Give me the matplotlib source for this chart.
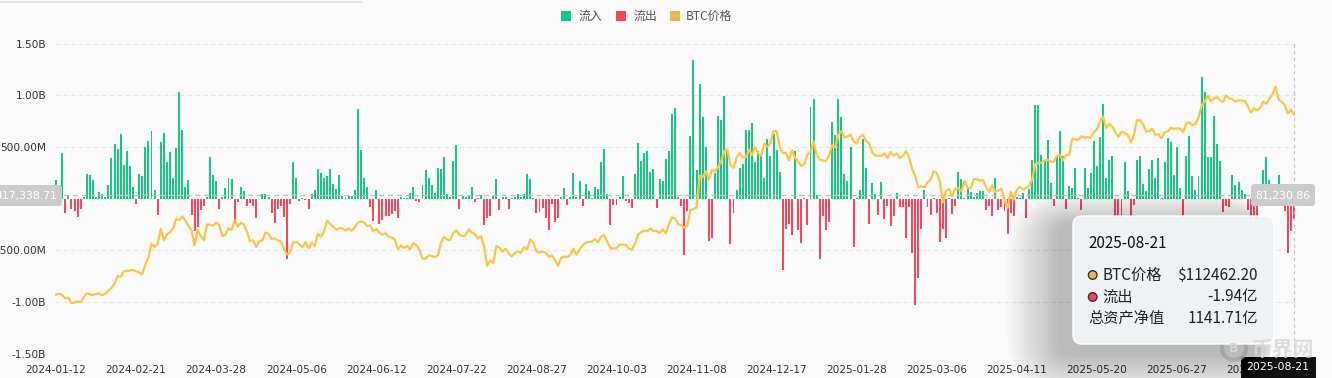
import numpy as np
import pandas as pd
import matplotlib
matplotlib.use('Agg')
import matplotlib.pyplot as plt
from matplotlib.patches import FancyBboxPatch, Rectangle, Circle

plt.rcParams['font.family'] = ['DejaVu Sans', 'Noto Sans CJK SC']

W, H = 1332, 378

# trading days (NYSE calendar)
holidays = ['2024-01-15', '2024-02-19', '2024-03-29', '2024-05-27', '2024-06-19',
            '2024-07-04', '2024-09-02', '2024-11-28', '2024-12-25', '2025-01-01',
            '2025-01-09', '2025-01-20', '2025-02-17', '2025-04-18', '2025-05-26',
            '2025-06-19', '2025-07-04']
dates = pd.bdate_range('2024-01-12', '2025-08-21', freq='C', holidays=holidays)

# daily net flow, $M
flow_2024_h1 = [
    180, 40, 436, -142, 26, -103, -120, -175, -103, 10, 239, 226, 178,                     # Jan
    19, 65, 48, 16, 126, 388, 523, 475, 620, 320, 459, 310, 116, -55, 233, 213, 500, 559,
    655, 78,                                                                               # Feb
    -158, 546, 630, 358, 452, 203, 488, 1027, 665, 113, 181, -158, -310, -278, -110, -71,
    15, 397, 223, 165,                                                                     # Mar
    -103, 19, 97, 194, 184, -216, -36, 107, 74, -71, -48, -71, -184, -5, 42, 45, 13, -142,
    -236, -103, -68, -181,                                                                 # Apr
    -581, -55, 358, 200, -29, 5, -10, -103, 48, 84, 287, 242, 203, 219, 287, 136, 94, 229,
    26, 13, 29, 29,                                                                        # May
    87, 869, 472, 197, 113, -84, -216, 84, -245, -207, -165, -171, -152, -120, -191, 10,
    5, 3, 58,                                                                              # Jun
]
flow_2024_h2 = [
    113, -29, -36, 126, 278, 200, 129, 58, 291, 281, 404, 39, 19, 365, 514, -97, 26, 13,
    36, 107, -36, 5,                                                                       # Jul
    36, -255, -184, -171, 29, 184, -110, 10, 13, -100, 3, 13, 42, 16, 48, 233, 184, 2,
    -145, -126, -94, -191,                                                                 # Aug
    -304, -55, -229, -191, 16, 100, -61, 19, 245, 19, 171, -71, 139, 74, 3, 116, 90, 352,
    478, 45,                                                                               # Sep
    -252, -65, -65, 16, 213, -26, -42, -90, 236, 540, 362, 442, 458, 258, 281, -90, 184,
    168, 381, 458, 814, 878, 16,                                                           # Oct
    -68, -549, -120, 607, 1341, 278, 1105, 788, 497, -413, -381, 242, 798, 762, 995, 462,
    -440, -145, 87, 300,                                                                   # Nov
    336, 659, 665, 730, 358, 462, 420, 203, 578, 413, 623, 465, 255, -691, -294, -245,
    -355, 455, -307, -433, 5,                                                              # Dec
]
flow_2025 = [
    -258, 888, 959, 36, -585, -168, -304, -226, 736, 610, 959, 788, 233, 171, 497, -472,
    6, 78, 575, 300,                                                                       # Jan
    -249, 149, 48, -158, 155, -197, -71, -265, -174, 52, -78, -84, -381, -81, -530, -1030,
    -772, -291, 78,                                                                        # Feb
    -87, -158, 5, -145, -423, -294, -384, 3, -149, -74, 258, 191, 5, 100, 65, 13, 52, 71,
    71, -110, -71,                                                                         # Mar
    -174, 200, -113, -87, -120, -342, -145, -165, 15, 3, 58, -184, 90, 368, 901, 901, 423,
    368, 568, 152, -74,                                                                    # Apr
    407, 656, 407, -103, 123, 97, 300, 3, -110, 300, 97, 242, 559, 310, 591, 917, 197, 368,
    413, -340, -610,                                                                       # May
    -267, 358, 68, -278, -61, 368, 413, 145, 68, 284, 374, 197, 389, 6, 350, 588, 548, 226,
    501, 102,                                                                              # Jun
    -342, 407, 601, 216, 80, 218, 1175, 1030, 403, 403, 799, 523, 363, -131, -68, -86, 227,
    130, 157, 80, 47, -114,                                                                # Jul
    -812, -333, -196, 91, 277, 404, 178, 66, 86, 231, -14, -122, -523, -312, -194,          # Aug
]

# BTC close, $k
price_2024_h1 = [
    42.8, 43.1, 42.7, 41.3, 41.6, 39.5, 39.8, 40.1, 40.0, 41.8, 43.3, 42.9, 42.6,
    43.1, 43.2, 42.6, 43.1, 44.3, 45.3, 47.1, 50.0, 49.7, 51.8, 52.0, 52.1, 52.3, 51.8,
    51.3, 50.7, 54.5, 57.1, 62.5, 61.2,
    62.4, 68.3, 63.8, 66.1, 66.9, 68.3, 72.1, 71.5, 73.1, 71.4, 69.4, 67.6, 61.9, 67.9,
    65.5, 63.8, 69.9, 69.9, 69.5, 70.7,
    69.7, 65.4, 66.0, 68.5, 67.8, 71.6, 69.1, 70.6, 70.0, 67.1, 63.4, 63.8, 61.3, 63.5,
    63.8, 66.8, 66.4, 64.3, 64.5, 63.8, 63.4, 60.6,
    58.3, 59.1, 62.9, 63.2, 62.3, 61.2, 63.1, 60.8, 62.9, 61.6, 66.3, 65.2, 67.0, 71.4,
    70.1, 69.1, 67.9, 68.5, 68.4, 67.6, 68.4, 67.5,
    68.8, 70.6, 71.1, 70.8, 69.4, 69.6, 67.3, 68.2, 66.8, 66.0, 66.5, 65.2, 64.9, 64.1,
    60.3, 61.8, 60.9, 61.6, 60.3,
]
price_2024_h2 = [
    62.7, 62.0, 60.2, 56.7, 56.7, 58.0, 57.7, 57.3, 57.9, 62.9, 65.1, 64.1, 63.9, 66.7,
    67.6, 65.9, 65.4, 65.8, 68.0, 66.8, 66.2, 64.6,
    65.4, 61.5, 54.0, 56.0, 55.0, 61.7, 60.9, 59.4, 60.6, 58.7, 57.6, 58.9, 59.5, 59.0,
    61.2, 60.4, 64.1, 62.9, 59.5, 59.0, 59.4, 59.1,
    57.5, 58.0, 56.2, 53.9, 57.0, 57.6, 57.3, 58.1, 60.6, 58.2, 60.3, 61.8, 62.9, 63.2,
    63.3, 64.3, 63.1, 65.2, 65.8, 63.3,
    60.8, 60.6, 60.8, 62.1, 62.2, 62.1, 60.6, 60.3, 62.4, 66.0, 67.0, 67.6, 67.4, 68.4,
    67.4, 67.4, 66.6, 68.1, 66.6, 69.9, 72.7, 72.3, 70.2,
    69.5, 68.8, 69.4, 75.6, 75.9, 76.5, 88.7, 88.3, 90.4, 87.3, 91.1, 90.5, 92.3, 94.3,
    98.4, 98.9, 93.0, 91.9, 95.9, 97.5,
    95.9, 96.0, 98.8, 97.0, 99.9, 97.4, 96.6, 101.2, 100.0, 101.5, 106.1, 106.1, 100.2,
    97.5, 97.8, 94.7, 98.7, 95.8, 94.2, 92.6, 93.4,
]
price_2025 = [
    96.9, 98.1, 102.1, 96.9, 95.0, 94.7, 94.5, 96.5, 100.5, 99.8, 104.5, 106.1, 103.7,
    104.0, 104.7, 102.1, 101.3, 103.7, 104.7, 102.4,
    101.4, 97.9, 96.6, 96.6, 96.5, 97.4, 95.7, 98.0, 96.6, 97.5, 95.6, 96.6, 98.3, 96.1,
    91.5, 88.7, 84.3, 84.7, 84.4,
    86.2, 87.2, 90.6, 89.9, 86.7, 78.5, 82.9, 83.7, 81.0, 83.9, 84.0, 82.7, 86.8, 84.2,
    84.0, 87.5, 87.4, 86.9, 87.2, 84.4, 82.5,
    85.2, 82.5, 83.1, 83.8, 79.2, 76.3, 82.6, 79.6, 83.4, 84.5, 83.6, 84.0, 84.9, 87.5,
    93.4, 93.7, 93.9, 94.7, 95.0, 94.3, 94.2,
    96.5, 96.9, 94.7, 96.8, 97.0, 103.2, 102.9, 102.8, 104.1, 103.5, 103.8, 103.5, 105.6,
    106.8, 109.7, 111.7, 107.3, 108.9, 107.8, 105.6, 103.9,
    105.8, 105.4, 104.7, 101.6, 104.4, 110.3, 110.3, 108.7, 105.9, 106.1, 107.0, 104.6,
    104.9, 103.3, 105.6, 106.0, 107.3, 107.0, 107.1, 107.1,
    105.7, 108.9, 109.6, 108.3, 108.9, 111.3, 115.9, 117.5, 119.8, 117.7, 118.7, 119.3,
    117.9, 117.4, 119.9, 118.8, 118.4, 117.6, 118.0, 117.9, 117.8, 115.8,
    113.3, 115.0, 114.1, 115.0, 117.5, 116.7, 118.7, 120.2, 123.3, 118.4, 117.4, 116.3,
    112.9, 114.3, 112.46,
]

flow = np.array(flow_2024_h1 + flow_2024_h2 + flow_2025, dtype=float)
price = np.array(price_2024_h1 + price_2024_h2 + price_2025)
assert len(flow) == len(dates) == len(price), (len(flow), len(dates), len(price))

y_ticks = [-1500, -1000, -500, 0, 500, 1000, 1500]
y_labels = ['-1.50B', '-1.00B', '-500.00M', '0', '500.00M', '1.00B', '1.50B']

GREEN = '#16c784'
RED = '#f6465d'
YELLOW = '#fcc547'
TXT = '#333333'

fig = plt.figure(figsize=(W / 100, H / 100), dpi=100)
fig.patch.set_facecolor('#fafafa')

x0, x1, yt, yb = 54.5, 1295.5, 43.5, 353.5
ax = fig.add_axes([x0 / W, 1 - yb / H, (x1 - x0) / W, (yb - yt) / H])
ax.set_facecolor('none')
x = np.arange(len(dates))
ax.set_xlim(-0.5, len(dates) - 0.5)
ax.set_ylim(-1500, 1500)

for v in y_ticks:
    ax.axhline(v, color='#e6e6e6', lw=0.8, ls=(0, (4, 3)), zorder=0)

ax.bar(x, np.where(flow > 0, flow, 0), width=0.64, color=GREEN, linewidth=0, zorder=2)
ax.bar(x, np.where(flow < 0, flow, 0), width=0.64, color=RED, linewidth=0, zorder=2)

ax.set_yticks(y_ticks)
ax.set_yticklabels(y_labels)
ax.set_xticks(x[::26])
ax.set_xticklabels(dates[::26].strftime('%Y-%m-%d'))
ax.tick_params(axis='both', length=0, labelsize=7.6, colors=TXT)
ax.tick_params(axis='y', pad=6)
ax.tick_params(axis='x', pad=8)
for s in ax.spines.values():
    s.set_visible(False)

# crosshair
ax.axhline(34, color='#bdbdbd', lw=0.9, ls=(0, (4, 3)), zorder=3)
ax.axvline(x[-1], color='#c4c4c4', lw=0.8, ls=(0, (3, 3)), zorder=3)

ax2 = ax.twinx()
ax2.set_ylim(20, 140)
ax2.plot(x, price, color=YELLOW, lw=1.6, solid_joinstyle='round', zorder=4)
ax2.set_yticks([])
for s in ax2.spines.values():
    s.set_visible(False)

# overlay in pixel coordinates
ov = fig.add_axes([0, 0, 1, 1], zorder=10)
ov.set_xlim(0, W)
ov.set_ylim(H, 0)
ov.axis('off')
ov.patch.set_alpha(0)

ov.plot([0, 362], [1.5, 1.5], color='#e2e2e2', lw=1.2, solid_capstyle='round')

# legend
for (sx, tx, c, lab) in [(561, 579, GREEN, '流入'), (616, 634, RED, '流出'), (670, 686, '#eab84a', 'BTC价格')]:
    ov.add_patch(Rectangle((sx, 11), 10, 10, color=c, lw=0))
    ov.text(tx, 16.5, lab, fontsize=8.6, color='#555555', va='center', ha='left',
            family=['Noto Sans CJK SC', 'DejaVu Sans'])

# crosshair labels
ov.add_patch(FancyBboxPatch((-6, 185), 68, 21, boxstyle='round,pad=0,rounding_size=3',
                            fc='#cbcbcb', ec='none'))
ov.text(57, 195.5, '417,338.71', fontsize=7.8, color='white', ha='right', va='center')
ov.add_patch(FancyBboxPatch((1251, 184), 64, 22, boxstyle='round,pad=0,rounding_size=3',
                            fc='#cbcbcb', ec='none'))
ov.text(1283, 195.5, '81,230.86', fontsize=7.8, color='white', ha='center', va='center')
ov.add_patch(Rectangle((1241, 357), 75, 21, fc='#111111', ec='none'))
ov.text(1278, 367.5, '2025-08-21', fontsize=7.8, color='white', ha='center', va='center')

# watermark
ov.add_patch(Circle((1234, 348), 12, fc='none', ec='#d6d6d6', lw=3, alpha=0.8))
ov.text(1234, 348.5, 'B', fontsize=9, color='#d6d6d6', ha='center', va='center', weight='bold')
ov.text(1252, 349, '币界网', fontsize=15, color='#d8d8d8', ha='left', va='center',
        family=['Noto Sans CJK SC'], weight='bold', alpha=0.8)

# tooltip
tx0, ty0, tw, th = 1073, 216, 201, 128
for k in range(16):
    pad = 3 + k * 3.4
    ov.add_patch(FancyBboxPatch((tx0 - 12 - pad, ty0 + 10 - pad * 0.6), tw + 2 * pad * 0.6, th + pad * 1.4,
                                boxstyle='round,pad=0,rounding_size=%d' % (10 + pad),
                                fc='#000000', ec='none', alpha=0.016))
ov.add_patch(FancyBboxPatch((tx0, ty0), tw, th, boxstyle='round,pad=0,rounding_size=9',
                            fc='#eff2f5', ec='#ffffff', lw=1))
tf = ['Noto Sans CJK SC', 'DejaVu Sans']
ov.text(1088, 243, '2025-08-21', fontsize=11, color='#111111', ha='left', va='center', family=tf)
ov.add_patch(Circle((1092.7, 275), 4.3, fc='#eab84a', ec='#333333', lw=1))
ov.add_patch(Circle((1092.7, 297), 4.3, fc=RED, ec='#333333', lw=1))
ov.text(1102.5, 275, 'BTC价格', fontsize=11, color='#222222', ha='left', va='center', family=tf)
ov.text(1102.5, 297, '流出', fontsize=11, color='#222222', ha='left', va='center', family=tf)
ov.text(1088, 318, '总资产净值', fontsize=11, color='#222222', ha='left', va='center', family=tf)
ov.text(1258, 275, '$112462.20', fontsize=11, color='#222222', ha='right', va='center', family=tf)
ov.text(1258, 297, '-1.94亿', fontsize=11, color='#222222', ha='right', va='center', family=tf)
ov.text(1258, 318, '1141.71亿', fontsize=11, color='#222222', ha='right', va='center', family=tf)

fig.savefig('out.png', dpi=100, facecolor=fig.get_facecolor())
